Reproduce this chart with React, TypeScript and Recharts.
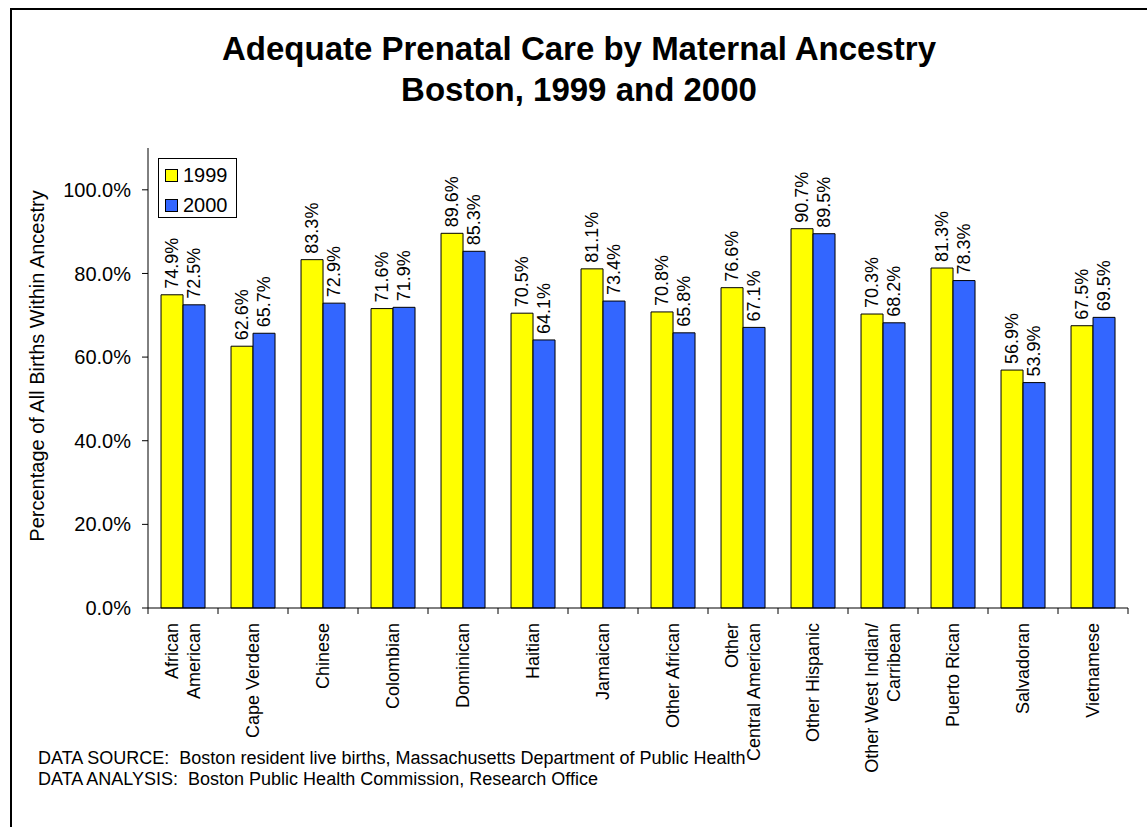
import React from 'react';
import { BarChart, Bar, XAxis, YAxis, LabelList, Legend } from 'recharts';

const categories = [
  'African\nAmerican',
  'Cape Verdean',
  'Chinese',
  'Colombian',
  'Dominican',
  'Haitian',
  'Jamaican',
  'Other African',
  'Other\nCentral American',
  'Other Hispanic',
  'Other West Indian/\nCarribean',
  'Puerto Rican',
  'Salvadoran',
  'Vietnamese',
];
const values1999 = [74.9, 62.6, 83.3, 71.6, 89.6, 70.5, 81.1, 70.8, 76.6, 90.7, 70.3, 81.3, 56.9, 67.5];
const values2000 = [72.5, 65.7, 72.9, 71.9, 85.3, 64.1, 73.4, 65.8, 67.1, 89.5, 68.2, 78.3, 53.9, 69.5];
const yTicks = [0, 20, 40, 60, 80, 100];
const seriesNames = ['1999', '2000'];
const seriesColors = ['#FFFF00', '#3366FF'];

const titleLines = ['Adequate Prenatal Care by Maternal Ancestry', 'Boston, 1999 and 2000'];
const yAxisTitle = 'Percentage of All Births Within Ancestry';
const footerLines = [
  'DATA SOURCE:\u00a0 Boston resident live births, Massachusetts Department of Public Health',
  'DATA ANALYSIS:\u00a0 Boston Public Health Commission, Research Office',
];

const data = categories.map((c, i) => ({
  category: c,
  v1999: values1999[i],
  v2000: values2000[i],
}));

const FONT = '"Liberation Sans", Arial, Helvetica, sans-serif';

const XTick = (props: any) => {
  const { x, y, payload, index } = props;
  const half = payload && typeof payload.offset === 'number' && payload.offset > 0 ? payload.offset : 35;
  const lines = String(payload.value).split('\n');
  const n = lines.length;
  const lh = 22;
  return (
    <g>
      <line x1={x - half} y1={y} x2={x - half} y2={y + 6} stroke="#000" strokeWidth={1} />
      {index === categories.length - 1 && (
        <line x1={x + half} y1={y} x2={x + half} y2={y + 6} stroke="#000" strokeWidth={1} />
      )}
      <text
        transform={`translate(${x},${y + 15}) rotate(-90)`}
        textAnchor="end"
        fontSize={18}
        fill="#000"
        fontFamily={FONT}
      >
        {lines.map((l, i) => (
          <tspan key={i} x={0} y={(i - (n - 1) / 2) * lh} dy="0.35em">
            {l}
          </tspan>
        ))}
      </text>
    </g>
  );
};

const ValueLabel = (props: any) => {
  const { x, y, width, value } = props;
  const cx = Number(x) + Number(width) / 2;
  return (
    <text
      transform={`translate(${cx},${Number(y) - 6}) rotate(-90)`}
      textAnchor="start"
      dy="0.35em"
      fontSize={18}
      fill="#000"
      fontFamily={FONT}
    >
      {`${Number(value).toFixed(1)}%`}
    </text>
  );
};

const LegendBox = () => (
  <div
    style={{
      width: 77,
      height: 58,
      border: '1px solid #000',
      background: '#fff',
      position: 'relative',
      fontFamily: FONT,
      fontSize: 20,
      color: '#000',
    }}
  >
    {seriesNames.map((name, i) => (
      <div
        key={name}
        style={{
          position: 'absolute',
          left: 6,
          top: 4 + i * 30,
          height: 24,
          display: 'flex',
          alignItems: 'center',
        }}
      >
        <span
          style={{
            display: 'inline-block',
            width: 11,
            height: 11,
            background: seriesColors[i],
            border: '1px solid #000',
            marginRight: 5,
          }}
        />
        <span style={{ lineHeight: '24px' }}>{name}</span>
      </div>
    ))}
  </div>
);

const YTitle = () => (
  <text
    transform="translate(37,366) rotate(-90)"
    textAnchor="middle"
    dy="0.35em"
    fontSize={20}
    fill="#000"
    fontFamily={FONT}
  >
    {yAxisTitle}
  </text>
);

export default function App() {
  return (
    <div
      style={{
        position: 'fixed',
        left: 0,
        top: 0,
        width: 1147,
        height: 827,
        overflow: 'hidden',
        background: '#fff',
        fontFamily: FONT,
      }}
    >
      <div
        style={{
          position: 'absolute',
          left: 10,
          top: 8,
          width: 1160,
          height: 840,
          borderTop: '2px solid #000',
          borderLeft: '2px solid #000',
        }}
      />
      <div
        style={{
          position: 'absolute',
          left: 0,
          top: 28,
          width: 1158,
          textAlign: 'center',
          fontSize: 33,
          fontWeight: 'bold',
          lineHeight: '41px',
          color: '#000',
        }}
      >
        {titleLines.map((t) => (
          <div key={t}>{t}</div>
        ))}
      </div>
      <div style={{ position: 'absolute', left: 0, top: 0 }}>
        <BarChart
          width={1147}
          height={827}
          data={data}
          margin={{ top: 148, right: 19, bottom: 0, left: 0 }}
          barCategoryGap="18.6%"
          barGap={0}
        >
          <XAxis
            dataKey="category"
            height={219}
            interval={0}
            tickLine={false}
            tickSize={0}
            tickMargin={0}
            axisLine={{ stroke: '#000', strokeWidth: 1 }}
            tick={<XTick />}
          />
          <XAxis
            xAxisId="top"
            dataKey="category"
            orientation="top"
            height={0}
            tick={false}
            tickLine={false}
            axisLine={{ stroke: '#808080', strokeWidth: 1 }}
          />
          <YAxis
            width={148}
            domain={[0, 110]}
            ticks={yTicks}
            interval={0}
            tickFormatter={(v: number) => `${v.toFixed(1)}%`}
            tick={{ fontSize: 20, fill: '#000', fontFamily: FONT }}
            tickSize={6}
            tickMargin={11}
            tickLine={{ stroke: '#000' }}
            axisLine={{ stroke: '#000', strokeWidth: 1 }}
            label={{ content: () => <YTitle /> }}
          />
          <YAxis
            yAxisId="right"
            orientation="right"
            width={0}
            domain={[0, 110]}
            tick={false}
            tickLine={false}
            axisLine={{ stroke: '#808080', strokeWidth: 1 }}
          />
          <Legend
            layout="horizontal"
            verticalAlign="middle"
            align="center"
            wrapperStyle={{ position: 'absolute', left: 158, top: 158, width: 'auto', height: 'auto' }}
            content={() => <LegendBox />}
          />
          <Bar
            dataKey="v1999"
            name={seriesNames[0]}
            fill={seriesColors[0]}
            stroke="#000"
            strokeWidth={1}
            isAnimationActive={false}
          >
            <LabelList dataKey="v1999" content={<ValueLabel />} />
          </Bar>
          <Bar
            dataKey="v2000"
            name={seriesNames[1]}
            fill={seriesColors[1]}
            stroke="#000"
            strokeWidth={1}
            isAnimationActive={false}
          >
            <LabelList dataKey="v2000" content={<ValueLabel />} />
          </Bar>
        </BarChart>
      </div>
      <div
        style={{
          position: 'absolute',
          left: 38,
          top: 748,
          fontSize: 18,
          lineHeight: '21px',
          color: '#000',
          whiteSpace: 'pre',
        }}
      >
        {footerLines.map((t) => (
          <div key={t}>{t}</div>
        ))}
      </div>
    </div>
  );
}
